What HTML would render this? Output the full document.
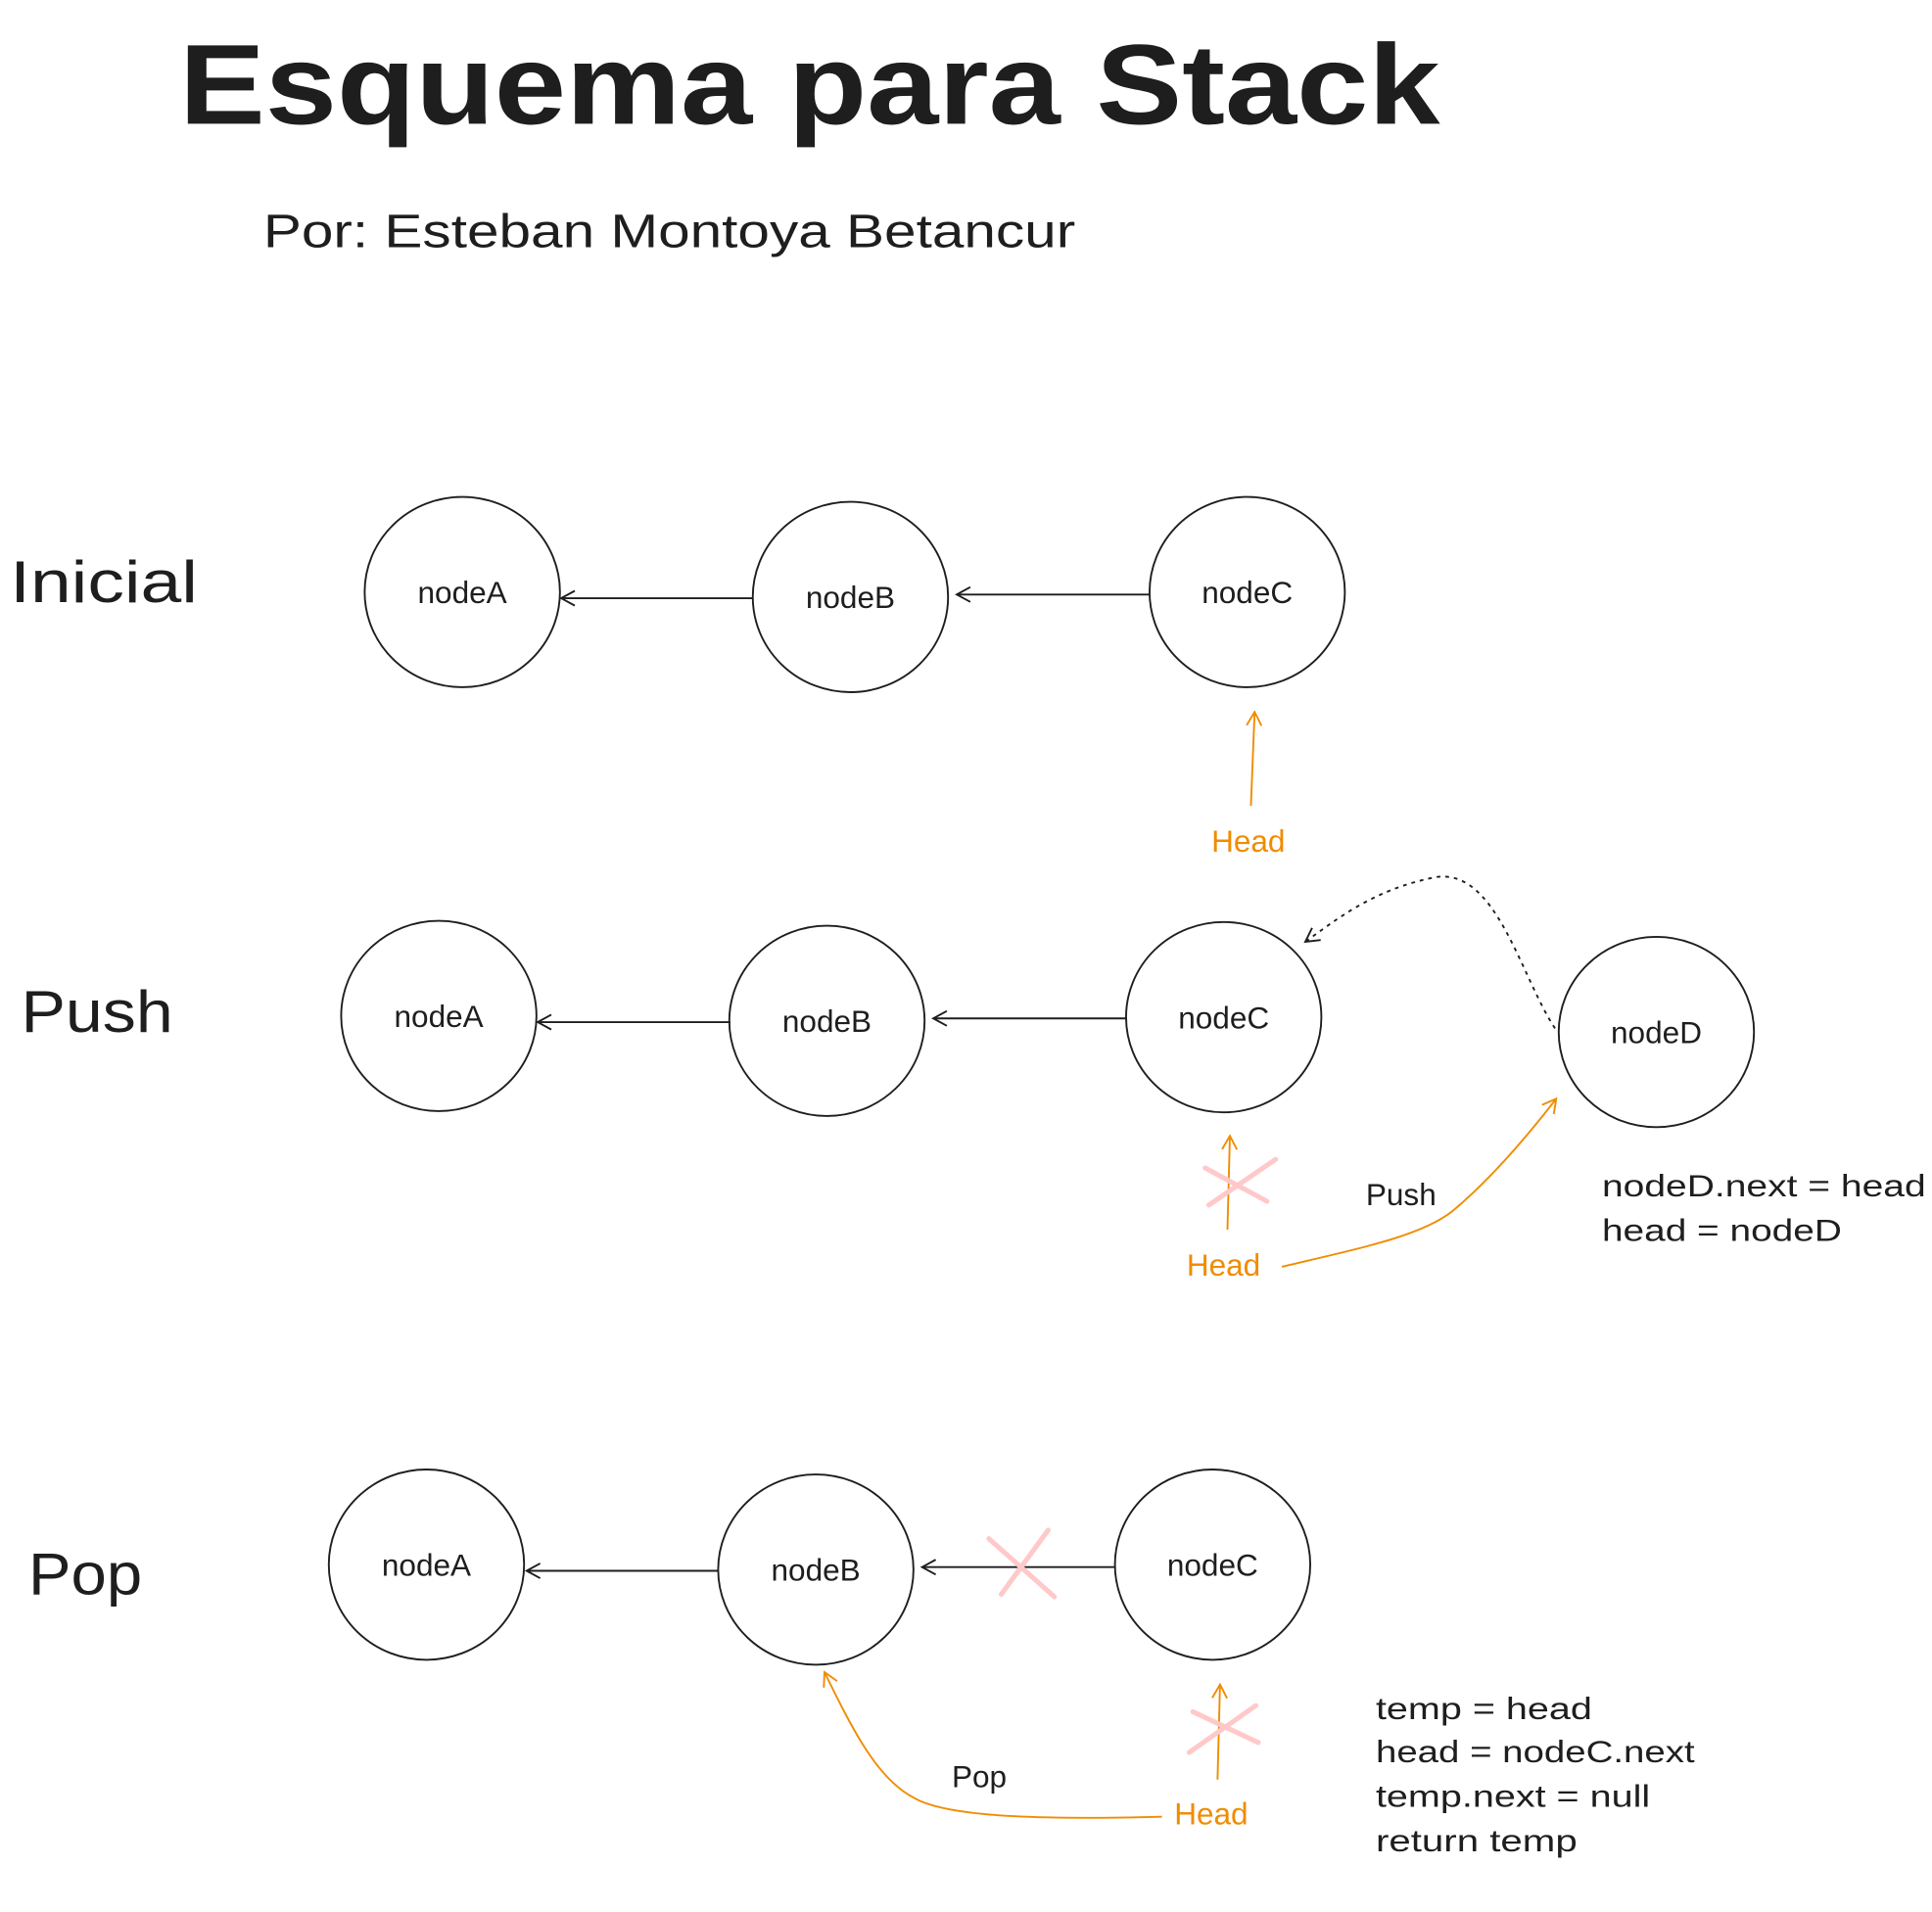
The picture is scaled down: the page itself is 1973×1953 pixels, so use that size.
<!DOCTYPE html>
<html><head><meta charset="utf-8"><style>
html,body{margin:0;padding:0;background:#fff;}
svg{display:block}
text{font-family:"Liberation Sans",sans-serif;fill:#1e1e1e}
</style></head><body>
<svg width="1973" height="1953" viewBox="0 0 1563 1547" xmlns="http://www.w3.org/2000/svg">
<defs>
<marker id="a" markerWidth="14" markerHeight="14" refX="12" refY="7" orient="auto" markerUnits="userSpaceOnUse"><path d="M1,1 L12,7 L1,13" fill="none" stroke="#1e1e1e" stroke-width="1.5"/></marker>
<marker id="o" markerWidth="14" markerHeight="14" refX="12" refY="7" orient="auto" markerUnits="userSpaceOnUse"><path d="M1,1 L12,7 L1,13" fill="none" stroke="#f08c00" stroke-width="1.5"/></marker>
</defs>
<rect width="1563" height="1547" fill="#fff"/>
<text x="145" y="100" font-size="92" font-weight="bold" textLength="1020" lengthAdjust="spacingAndGlyphs">Esquema para Stack</text>
<text x="213" y="200" font-size="38" textLength="657" lengthAdjust="spacingAndGlyphs">Por: Esteban Montoya Betancur</text>

<g fill="none" stroke="#1e1e1e" stroke-width="1.5">
<ellipse cx="374" cy="479" rx="79" ry="77"/><ellipse cx="688" cy="483" rx="79" ry="77"/><ellipse cx="1009" cy="479" rx="79" ry="77"/>
<ellipse cx="355" cy="822" rx="79" ry="77"/><ellipse cx="669" cy="826" rx="79" ry="77"/><ellipse cx="990" cy="823" rx="79" ry="77"/><ellipse cx="1340" cy="835" rx="79" ry="77"/>
<ellipse cx="345" cy="1266" rx="79" ry="77"/><ellipse cx="660" cy="1270" rx="79" ry="77"/><ellipse cx="981" cy="1266" rx="79" ry="77"/>
<line x1="609" y1="484" x2="454" y2="484" marker-end="url(#a)"/>
<line x1="930" y1="481" x2="774" y2="481" marker-end="url(#a)"/>
<line x1="591" y1="827" x2="435" y2="827" marker-end="url(#a)"/>
<line x1="911" y1="824" x2="755" y2="824" marker-end="url(#a)"/>
<line x1="581" y1="1271" x2="426" y2="1271" marker-end="url(#a)"/>
<line x1="902" y1="1268" x2="746" y2="1268" marker-end="url(#a)"/>
<path d="M1258,832 C1230,790 1210,700 1160,710 C1110,720 1080,745 1056,762" stroke-dasharray="3,4" marker-end="url(#a)"/>
</g>
<g fill="none" stroke="#f08c00" stroke-width="1.5">
<line x1="1012" y1="652" x2="1015" y2="576" marker-end="url(#o)"/>
<line x1="993" y1="995" x2="995" y2="919" marker-end="url(#o)"/>
<line x1="985" y1="1440" x2="987" y2="1363" marker-end="url(#o)"/>
<path d="M1037,1025 C1100,1010 1150,1000 1175,980 C1205,955 1235,920 1259,889" marker-end="url(#o)"/>
<path d="M940,1470 C860,1472 770,1472 740,1455 C710,1440 690,1400 667,1353" marker-end="url(#o)"/>
</g>
<g stroke="#ffc9c9" stroke-width="4" stroke-linecap="round">
<line x1="975" y1="945" x2="1025" y2="972"/><line x1="1032" y1="938" x2="978" y2="975"/>
<line x1="800" y1="1245" x2="853" y2="1292"/><line x1="848" y1="1238" x2="810" y2="1290"/>
<line x1="965" y1="1385" x2="1018" y2="1410"/><line x1="1016" y1="1380" x2="962" y2="1418"/>
</g>
<text x="8" y="487" font-size="48" textLength="152" lengthAdjust="spacingAndGlyphs">Inicial</text>
<text x="17" y="835" font-size="48" textLength="123" lengthAdjust="spacingAndGlyphs">Push</text>
<text x="23" y="1290" font-size="48" textLength="92" lengthAdjust="spacingAndGlyphs">Pop</text>
<g font-size="25" text-anchor="middle">
<text x="374" y="488">nodeA</text><text x="688" y="492">nodeB</text><text x="1009" y="488">nodeC</text>
<text x="355" y="831">nodeA</text><text x="669" y="835">nodeB</text><text x="990" y="832">nodeC</text><text x="1340" y="844">nodeD</text>
<text x="345" y="1275">nodeA</text><text x="660" y="1279">nodeB</text><text x="981" y="1275">nodeC</text>
</g>
<g font-size="25">
<text x="980" y="689" style="fill:#f08c00">Head</text>
<text x="960" y="1032" style="fill:#f08c00">Head</text>
<text x="950" y="1476" style="fill:#f08c00">Head</text>
</g>
<text x="1105" y="975" font-size="25">Push</text>
<text x="770" y="1446" font-size="25">Pop</text>
<g font-size="25">
<text x="1296" y="968" textLength="262" lengthAdjust="spacingAndGlyphs">nodeD.next = head</text>
<text x="1296" y="1004" textLength="194" lengthAdjust="spacingAndGlyphs">head = nodeD</text>
<text x="1113" y="1391" textLength="175" lengthAdjust="spacingAndGlyphs">temp = head</text>
<text x="1113" y="1426" textLength="258" lengthAdjust="spacingAndGlyphs">head = nodeC.next</text>
<text x="1113" y="1462" textLength="222" lengthAdjust="spacingAndGlyphs">temp.next = null</text>
<text x="1113" y="1498" textLength="163" lengthAdjust="spacingAndGlyphs">return temp</text>
</g>
</svg>
</body></html>
